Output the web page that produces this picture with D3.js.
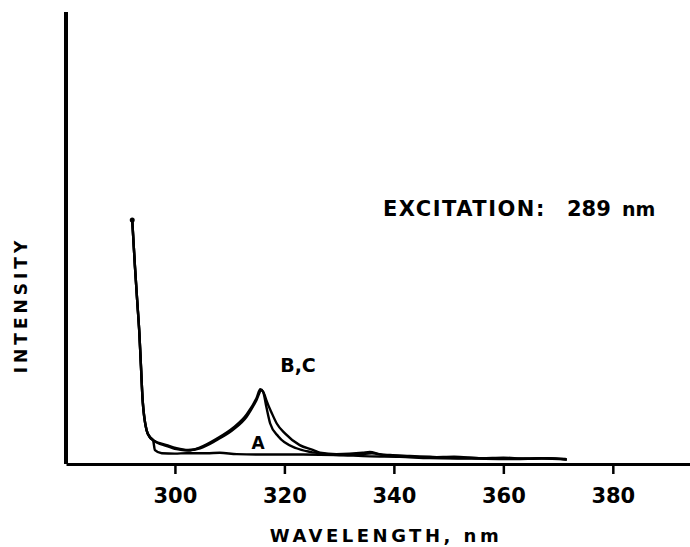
<!DOCTYPE html>
<html>
<head>
<meta charset="utf-8">
<script src="https://cdn.jsdelivr.net/npm/d3@7"></script>
<style>
  html, body { margin: 0; padding: 0; background: #fff; }
  svg { display: block; font-family: "DejaVu Sans", sans-serif; }
</style>
</head>
<body>
<svg id="chart" width="690" height="547"></svg>
<script>
// ---- data ----
const xTicks = [300, 320, 340, 360, 380];

const wavelengthShared = [292.2, 292.7, 293.1, 293.5, 293.8, 294.1, 294.4, 294.8, 295.4, 296.0];
const intensityShared  = [54.2, 43.8, 36.4, 29.1, 21.6, 14.2, 10.4, 7.6, 6.0, 5.3];

const wavelengthA = [296.35, 297.6, 300.0, 302.1, 305.8, 308.2, 311.3, 317.4, 323.4, 329.5, 335.6, 341.1, 346.6, 354.1, 362.0, 367.0, 371.6];
const intensityA  = [3.1, 2.4, 2.3, 2.4, 2.4, 2.5, 2.2, 2.1, 2.1, 2.0, 1.7, 1.6, 1.3, 1.2, 1.1, 1.2, 1.0];

const wavelengthB = [298.5, 300.3, 302.4, 304.6, 307.6, 310.6, 313.1, 314.9, 315.8, 316.4, 316.7, 317.7, 318.6, 320.1, 322.8, 325.3, 326.5, 329.5, 334.3, 335.6, 337.4, 339.3, 342.9, 346.6, 350.2, 355.7, 361.2, 366.7, 371.4];
const intensityB  = [4.2, 3.5, 3.1, 3.5, 5.3, 7.6, 10.5, 14.2, 16.4, 15.3, 14.2, 11.3, 9.0, 6.8, 4.2, 3.1, 2.5, 2.2, 2.5, 2.7, 2.2, 2.0, 1.8, 1.6, 1.4, 1.3, 1.2, 1.3, 1.1];

const wavelengthC = [298.5, 300.3, 302.4, 304.6, 307.6, 310.6, 313.1, 314.9, 315.6, 316.1, 316.7, 317.4, 318.9, 322.2, 324.7, 327.0, 330.0, 334.0, 336.0, 338.0, 342.0, 347.0, 351.0, 356.0, 360.0, 364.0, 368.0, 371.6];
const intensityC  = [4.0, 3.3, 3.0, 3.7, 5.6, 8.0, 11.0, 14.6, 16.6, 16.1, 12.7, 9.0, 6.1, 3.5, 2.7, 2.3, 2.0, 2.2, 2.4, 2.0, 1.7, 1.5, 1.6, 1.3, 1.4, 1.2, 1.3, 1.0];

const seriesNames = ["A", "B", "C"];

// ---- build ----
const svg = d3.select("#chart");
const x = d3.scaleLinear().domain([280.1, 394.1]).range([66, 690]);
const y = d3.scaleLinear().domain([0, 100]).range([464, 14]);

function join(wl, it) {
  return wavelengthShared.map((w, i) => [w, intensityShared[i]])
    .concat(wl.map((w, i) => [w, it[i]]));
}
const series = {
  A: join(wavelengthA, intensityA),
  B: join(wavelengthB, intensityB),
  C: join(wavelengthC, intensityC)
};

const line = d3.line()
  .x(d => x(d[0]))
  .y(d => y(d[1]))
  .curve(d3.curveMonotoneX);

seriesNames.forEach(name => {
  svg.append("path")
    .datum(series[name])
    .attr("fill", "none")
    .attr("stroke", "#000")
    .attr("stroke-width", 2.4)
    .attr("stroke-linejoin", "round")
    .attr("d", line);
});

// start dot
svg.append("circle")
  .attr("cx", x(wavelengthShared[0]))
  .attr("cy", y(intensityShared[0]))
  .attr("r", 2.5)
  .attr("fill", "#000");

// x axis
const xAxis = d3.axisBottom(x)
  .tickValues(xTicks)
  .tickSize(10)
  .tickSizeOuter(0)
  .tickPadding(14)
  .tickFormat(d3.format("d"));
const gx = svg.append("g").attr("transform", `translate(0,${y(0)})`).call(xAxis);
gx.select(".domain").attr("stroke", "#000").attr("stroke-width", 3);
gx.selectAll(".tick line").attr("stroke", "#000").attr("stroke-width", 2.5);
gx.selectAll(".tick text")
  .attr("fill", "#000")
  .style("font-family", "'DejaVu Sans', sans-serif")
  .style("font-size", "21px")
  .style("font-weight", "bold");

// y axis (no ticks)
const yAxis = d3.axisLeft(y).tickValues([]).tickSizeOuter(0);
const gy = svg.append("g").attr("transform", `translate(${x(280.1)},0)`).call(yAxis);
gy.select(".domain").attr("stroke", "#000").attr("stroke-width", 4)
  .attr("d", `M0,${y(100) - 2}V${y(0)}`);

// axis titles
svg.append("text")
  .attr("x", 386)
  .attr("y", 542)
  .attr("text-anchor", "middle")
  .style("font-size", "18px")
  .style("font-weight", "bold")
  .style("letter-spacing", "3.5px")
  .text("WAVELENGTH, nm");

svg.append("text")
  .attr("transform", "translate(27,305) rotate(-90)")
  .attr("text-anchor", "middle")
  .style("font-size", "17px")
  .style("font-weight", "bold")
  .style("letter-spacing", "4px")
  .text("INTENSITY");

// annotation
const ex = svg.append("text")
  .attr("x", 383)
  .attr("y", 216)
  .style("font-size", "21px")
  .style("font-weight", "bold");
ex.append("tspan").style("letter-spacing", "1.5px").text("EXCITATION:");
ex.append("tspan").attr("x", 567).text("289");
ex.append("tspan").attr("x", 622).style("font-size", "19px").text("nm");

// series labels
svg.append("text")
  .attr("x", 298).attr("y", 372)
  .attr("text-anchor", "middle")
  .style("font-size", "19px")
  .style("font-weight", "bold")
  .text("B,C");

svg.append("text")
  .attr("x", 258).attr("y", 449)
  .attr("text-anchor", "middle")
  .style("font-size", "17px")
  .style("font-weight", "bold")
  .text("A");
</script>
</body>
</html>
